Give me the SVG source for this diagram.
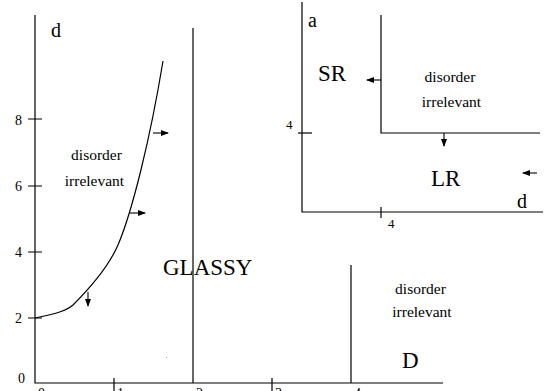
<svg xmlns="http://www.w3.org/2000/svg" width="559" height="391" viewBox="0 0 559 391">
<defs>
<style>
.ln{stroke:#000;stroke-width:1.2;fill:none}
.ar{stroke:#000;stroke-width:1.1;fill:none;marker-end:url(#ah)}
text{font-family:"Liberation Serif","Times New Roman",serif;fill:#000}
.big{font-size:23px}
.lbl{font-size:20px}
.sm{font-size:15.5px}
.num{font-size:14px}
.num2{font-size:13px}
</style>
<marker id="ah" markerWidth="8" markerHeight="6" refX="7" refY="3" orient="auto" markerUnits="userSpaceOnUse">
<path d="M0,0 L8,3 L0,6 Z" fill="#000"/>
</marker>
</defs>
<rect width="559" height="391" fill="#fff"/>
<g id="main-axes">
<path class="ln" d="M35,15 V383 H443"/>
<path class="ln" d="M28,119 H42 M28,186 H42 M28,252 H42 M28,318 H42"/>
<path class="ln" d="M114,378 V391 M272,378 V391"/>
<text class="num" x="15" y="125">8</text>
<text class="num" x="15" y="191">6</text>
<text class="num" x="15" y="257">4</text>
<text class="num" x="15" y="323">2</text>
<text class="num" x="18" y="383">0</text>
<text class="num" x="38" y="398">0</text>
<text class="num" x="117" y="398">1</text>
<text class="num" x="196" y="398">2</text>
<text class="num" x="275" y="398">3</text>
<text class="num" x="354" y="398">4</text>
<text class="lbl" x="51" y="37">d</text>
</g>
<g id="boundaries">
<path class="ln" d="M35,318 C50,315 65,312 73,305 C90,288 108,268 118,245 C132,212 150,140 163,61"/>
<path class="ln" d="M193,28 V383"/>
<path class="ln" d="M351,265 V383"/>
</g>
<g id="connectors">
<path class="ar" d="M153,133 H168"/>
<path class="ar" d="M130,213 H145"/>
<path class="ar" d="M88,292 V306"/>
<path class="ar" d="M381,80 H367"/>
<path class="ar" d="M444,133 V146"/>
<path class="ar" d="M537,173 H523"/>
</g>
<g id="region-left">
<text class="sm" x="96.5" y="160" text-anchor="middle">disorder</text>
<text class="sm" x="94.5" y="186" text-anchor="middle">irrelevant</text>
</g>
<g id="region-glassy">
<text class="big" x="163" y="275">GLASSY</text>
</g>
<g id="region-right">
<text class="sm" x="420.5" y="294" text-anchor="middle">disorder</text>
<text class="sm" x="422" y="317" text-anchor="middle">irrelevant</text>
<text class="big" x="402" y="368">D</text>
</g>
<rect x="166" y="357" width="1" height="1" fill="#999"/>
<g id="inset">
<path class="ln" d="M302,2 V212 H543"/>
<path class="ln" d="M298,133 H312"/>
<path class="ln" d="M381,207 V218"/>
<path class="ln" d="M381,15 V133 H540"/>
<text class="num2" x="286" y="129">4</text>
<text class="num2" x="388" y="228">4</text>
<text class="lbl" x="308" y="27">a</text>
<text class="big" x="318" y="81">SR</text>
<text class="big" x="431" y="186">LR</text>
<text class="lbl" x="517" y="208">d</text>
<text class="sm" x="450" y="82" text-anchor="middle">disorder</text>
<text class="sm" x="451.5" y="107" text-anchor="middle">irrelevant</text>
</g>
</svg>
